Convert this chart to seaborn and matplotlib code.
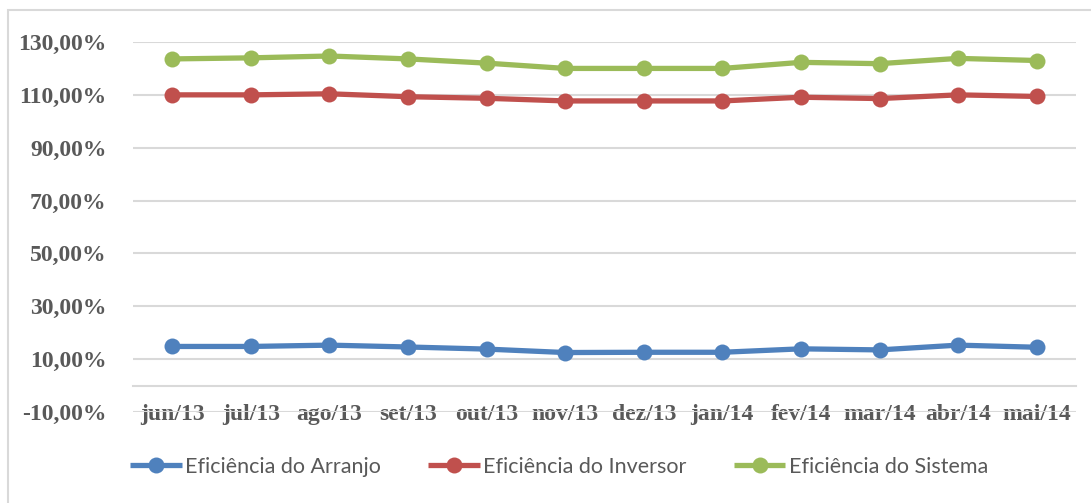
import numpy as np
import pandas as pd
import matplotlib
matplotlib.use("Agg")
import matplotlib.pyplot as plt
import matplotlib.patches as mpatches
from matplotlib.ticker import FuncFormatter
import seaborn as sns

meses = ["jun/13", "jul/13", "ago/13", "set/13", "out/13", "nov/13",
         "dez/13", "jan/14", "fev/14", "mar/14", "abr/14", "mai/14"]
series = ["Eficiência do Arranjo", "Eficiência do Inversor", "Eficiência do Sistema"]
arranjo = [14.8, 14.8, 15.3, 14.6, 13.8, 12.5, 12.6, 12.6, 13.9, 13.5, 15.3, 14.5]
inversor = [110.0, 110.0, 110.4, 109.3, 108.7, 107.7, 107.7, 107.7, 109.1, 108.6, 110.0, 109.4]
sistema = [123.6, 124.0, 124.7, 123.6, 122.0, 120.0, 120.0, 120.0, 122.3, 121.8, 123.8, 123.0]
y_ticks = [-10, 10, 30, 50, 70, 90, 110, 130]
cores = ["#4f81bd", "#c0504d", "#9bbb59"]

df = pd.DataFrame({
    "mes": meses * 3,
    "valor": arranjo + inversor + sistema,
    "serie": np.repeat(series, len(meses)),
})

sns.set_theme(style="white")
plt.rcParams["font.family"] = ["Liberation Serif", "DejaVu Serif"]
texto = "#595959"
grade = "#d9d9d9"

fig = plt.figure(figsize=(10.91, 5.03), dpi=100)
W, H = 1091, 503
ax = fig.add_axes([133 / W, 1 - 412 / H, (1076 - 133) / W, (412 - 42) / H])

sns.lineplot(data=df, x="mes", y="valor", hue="serie", palette=cores,
             marker="o", markersize=11.5, linewidth=3.8, sort=False,
             ax=ax, legend=False)
for ln, c in zip(ax.lines, cores):
    ln.set_markeredgecolor(c)
    ln.set_markeredgewidth(0)
    ln.set_solid_capstyle("butt")

ax.set_xlim(-0.5, len(meses) - 0.5)
ax.set_ylim(-10, 130)
ax.set_xlabel("")
ax.set_ylabel("")

# y axis: gridlines and percent labels
ax.set_yticks(y_ticks)
ax.yaxis.set_major_formatter(FuncFormatter(lambda v, p: f"{v:.2f}%".replace(".", ",")))
ax.grid(axis="y", color=grade, linewidth=1.5)
ax.grid(axis="x", visible=False)
ax.set_axisbelow(True)
ax.tick_params(axis="y", length=0, pad=19, labelsize=17, labelcolor=texto)
for t in ax.get_yticklabels():
    t.set_fontweight("bold")

# category axis crossing at zero, ticks between categories
for s in ["top", "right", "left"]:
    ax.spines[s].set_visible(False)
ax.spines["bottom"].set_position(("data", 0))
ax.spines["bottom"].set_color(grade)
ax.spines["bottom"].set_linewidth(1.5)
ax.set_xticks(np.arange(-0.5, len(meses), 1))
ax.set_xticklabels([])
ax.set_xticks(np.arange(len(meses)), minor=True)
ax.set_xticklabels(meses, minor=True)
ax.tick_params(axis="x", which="major", direction="out", length=5, width=1.5, color=grade)
ax.tick_params(axis="x", which="minor", length=0, pad=13, labelsize=17, labelcolor=texto)
for t in ax.get_xticklabels(minor=True):
    t.set_fontweight("bold")

# legend along the bottom
fs = 15.5
leg = fig.legend(ax.lines[:3], series, loc="center", bbox_to_anchor=(559 / W, 1 - 467 / H),
                 ncol=3, frameon=False, handlelength=2.4, handletextpad=0.15,
                 columnspacing=2.2, prop={"family": ["Lato", "DejaVu Sans"], "size": fs})
for t in leg.get_texts():
    t.set_color(texto)

# chart area border
fig.patches.append(mpatches.Rectangle((8 / W, -0.1), 1.2, 1.1 - 10 / H, fill=False,
                                      edgecolor=grade, linewidth=1.5,
                                      transform=fig.transFigure, figure=fig))

fig.savefig("out.png", dpi=100, facecolor="white")
